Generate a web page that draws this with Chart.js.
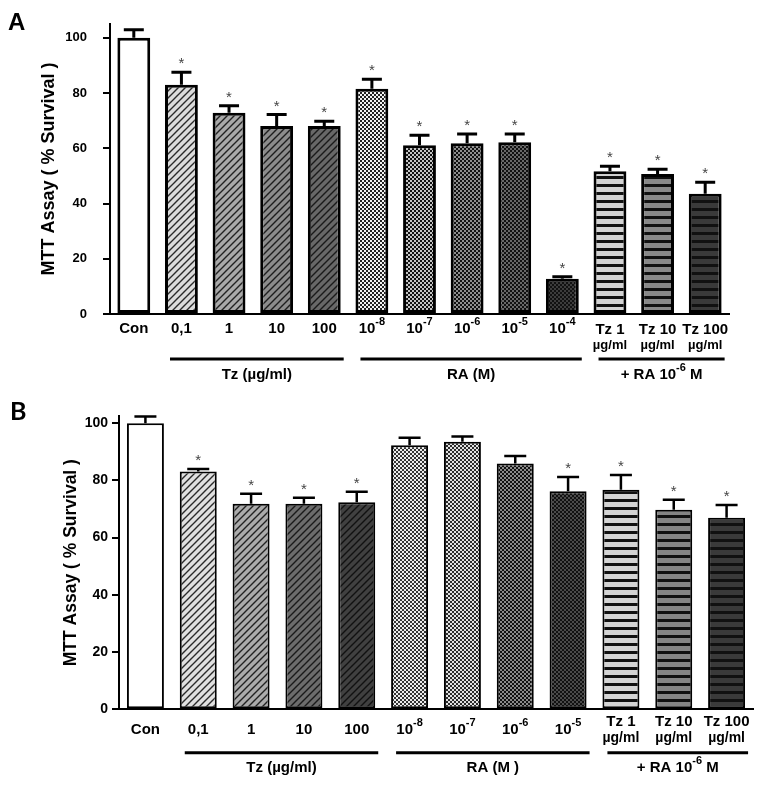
<!DOCTYPE html>
<html>
<head>
<meta charset="utf-8">
<script src="https://cdn.jsdelivr.net/npm/chart.js@4.4.1/dist/chart.umd.min.js"></script>
<style>
  body { margin: 0; background: #fff; }
  #wrap { position: relative; width: 760px; height: 786px; }
  canvas { position: absolute; left: 0; }
  #chartA { top: 0; }
  #chartB { top: 395px; }
</style>
</head>
<body>
<div id="wrap">
  <canvas id="chartA" width="760" height="395"></canvas>
  <canvas id="chartB" width="760" height="391"></canvas>
</div>
<script>
// ---- data ----
const labelsA = ["Con", "0,1", "1", "10", "100", "10^-8", "10^-7", "10^-6", "10^-5", "10^-4", "Tz 1\nµg/ml", "Tz 10\nµg/ml", "Tz 100\nµg/ml"];
const survivalA = [100, 83.0, 72.9, 68.1, 68.1, 81.6, 61.1, 61.8, 62.2, 12.8, 51.7, 50.7, 43.5];
const errorA = [2.9, 4.5, 2.5, 4.1, 1.7, 3.4, 3.6, 3.4, 3.0, 0.7, 1.8, 1.7, 4.2];
const sigA = [0, 1, 1, 1, 1, 1, 1, 1, 1, 1, 1, 1, 1];
const groupNamesA = ["Tz (µg/ml)", "RA (M)", "+ RA 10^-6^ M"];
const groupSpansA = [[1, 4], [5, 9], [10, 12]];

const labelsB = ["Con", "0,1", "1", "10", "100", "10^-8", "10^-7", "10^-6", "10^-5", "Tz 1\nµg/ml", "Tz 10\nµg/ml", "Tz 100\nµg/ml"];
const survivalB = [100, 83.1, 71.8, 71.8, 72.4, 92.3, 93.5, 85.9, 76.2, 76.7, 69.7, 66.9];
const errorB = [2.3, 0.9, 3.5, 2.1, 3.6, 2.6, 1.8, 2.6, 5.0, 5.2, 3.5, 4.5];
const sigB = [0, 1, 1, 1, 1, 0, 0, 0, 1, 1, 1, 1];
const groupNamesB = ["Tz (µg/ml)", "RA (M )", "+ RA 10^-6^ M"];
const groupSpansB = [[1, 4], [5, 8], [9, 11]];

const yTitle = "MTT Assay ( % Survival )";

// ---- bar fill styles ----
const fillsA = [
  ["solid", "#ffffff"],
  ["diag", "#dcdcdc", "#2a2a2a"],
  ["diag", "#a9a9a9", "#222"],
  ["diag", "#8c8c8c", "#1e1e1e"],
  ["diag", "#686868", "#1a1a1a"],
  ["check", "#f2f2f2", "#222"],
  ["check", "#c4c4c4", "#111"],
  ["check", "#8e8e8e", "#111"],
  ["check", "#676767", "#111"],
  ["check", "#3c3c3c", "#111"],
  ["stripe", "#d2d2d2", "#111"],
  ["stripe", "#888888", "#111"],
  ["stripe", "#3a3a3a", "#111"]
];
const fillsB = [
  ["solid", "#ffffff"],
  ["diag", "#e0e0e0", "#2a2a2a"],
  ["diag", "#ababab", "#222"],
  ["diag", "#6c6c6c", "#1a1a1a"],
  ["diag", "#404040", "#111"],
  ["check", "#ececec", "#333"],
  ["check", "#e0e0e0", "#2a2a2a"],
  ["check", "#8a8a8a", "#111"],
  ["check", "#4a4a4a", "#111"],
  ["stripe", "#d4d4d4", "#111"],
  ["stripe", "#858585", "#111"],
  ["stripe", "#3a3a3a", "#111"]
];

const FONT = "'Liberation Sans', Arial, sans-serif";

function makeFill(spec) {
  const [kind, bg, fg] = spec;
  if (kind === "solid") return bg;
  const c = document.createElement("canvas");
  const g = c.getContext("2d");
  if (kind === "diag") {
    c.width = c.height = 7;
    g.fillStyle = bg; g.fillRect(0, 0, 7, 7);
    g.strokeStyle = fg; g.lineWidth = 1.4;
    g.beginPath();
    g.moveTo(-1, 8); g.lineTo(8, -1);
    g.moveTo(-1, 1); g.lineTo(1, -1);
    g.moveTo(6, 8); g.lineTo(8, 6);
    g.stroke();
  } else if (kind === "check") {
    c.width = c.height = 4;
    g.fillStyle = bg; g.fillRect(0, 0, 4, 4);
    g.fillStyle = fg; g.fillRect(0, 0, 2, 2); g.fillRect(2, 2, 2, 2);
  } else {
    c.width = 4; c.height = 8;
    g.fillStyle = bg; g.fillRect(0, 0, 4, 8);
    g.fillStyle = fg; g.fillRect(0, 0, 4, 3);
  }
  return g.createPattern(c, "repeat");
}

// text with ^superscript^ parts, centred on cx
function drawRich(ctx, text, cx, y, size) {
  const parts = text.split("^");
  const supSize = Math.round(size * 0.75);
  let w = 0;
  parts.forEach((p, k) => {
    ctx.font = "bold " + (k % 2 ? supSize : size) + "px " + FONT;
    w += ctx.measureText(p).width;
  });
  let x = cx - w / 2;
  ctx.textAlign = "left";
  ctx.textBaseline = "middle";
  parts.forEach((p, k) => {
    const sup = k % 2 === 1;
    ctx.font = "bold " + (sup ? supSize : size) + "px " + FONT;
    ctx.fillText(p, x, sup ? y - size * 0.45 : y);
    x += ctx.measureText(p).width;
  });
}

function annotate(o) {
  return {
    id: "annot" + o.letter,
    afterDatasetsDraw(chart) {
      const ctx = chart.ctx;
      const xs = chart.scales.x, ys = chart.scales.y;
      const ds = chart.data.datasets[0];
      const bars = chart.getDatasetMeta(0).data;
      ctx.save();
      // error bars + stars
      bars.forEach((bar, i) => {
        const top = ys.getPixelForValue(ds.data[i] + ds.errors[i]);
        ctx.strokeStyle = "#000";
        ctx.lineWidth = o.errWidth;
        ctx.beginPath();
        ctx.moveTo(bar.x, bar.y);
        ctx.lineTo(bar.x, top);
        ctx.moveTo(bar.x - o.capHalf, top);
        ctx.lineTo(bar.x + o.capHalf, top);
        ctx.stroke();
        if (ds.sig[i]) {
          ctx.fillStyle = "#444";
          ctx.font = "15px " + FONT;
          ctx.textAlign = "center";
          ctx.textBaseline = "alphabetic";
          ctx.fillText("*", bar.x, top - 4);
        }
      });
      // category labels
      ctx.fillStyle = "#000";
      chart.data.labels.forEach((lab, i) => {
        const cx = xs.getPixelForValue(i);
        const lines = lab.split("\n");
        if (lines.length === 1) {
          drawRich(ctx, lab, cx, o.labelY, o.labelSize);
        } else {
          drawRich(ctx, lines[0], cx, o.line1Y, o.labelSize);
          drawRich(ctx, lines[1], cx, o.line2Y, o.line2Size);
        }
      });
      // group bars and names
      ctx.strokeStyle = "#000";
      ctx.lineWidth = 3;
      o.spans.forEach((sp, k) => {
        const b0 = bars[sp[0]], b1 = bars[sp[1]];
        const x0 = b0.x - b0.width / 2 + 5, x1 = b1.x + b1.width / 2 + 3;
        ctx.beginPath();
        ctx.moveTo(x0, o.groupLineY);
        ctx.lineTo(x1, o.groupLineY);
        ctx.stroke();
        drawRich(ctx, o.names[k], (x0 + x1) / 2, o.groupLabelY, o.groupSize);
      });
      // panel letter
      ctx.font = o.letterFont;
      ctx.textAlign = "left";
      ctx.textBaseline = "alphabetic";
      ctx.fillText(o.letter, o.letterX, o.letterY);
      ctx.restore();
    }
  };
}

function buildChart(id, labels, values, errors, sig, fills, o) {
  return new Chart(document.getElementById(id), {
    type: "bar",
    data: {
      labels: labels,
      datasets: [{
        data: values,
        errors: errors,
        sig: sig,
        backgroundColor: fills.map(makeFill),
        borderColor: "#000",
        borderWidth: o.borderWidth,
        borderSkipped: false,
        barPercentage: o.barPct,
        categoryPercentage: 1.0
      }]
    },
    options: {
      responsive: false,
      animation: false,
      layout: { padding: { top: o.padTop, right: o.padRight, left: 0, bottom: 0 } },
      plugins: { legend: { display: false }, tooltip: { enabled: false } },
      scales: {
        x: {
          grid: { display: false },
          border: { display: true, color: "#000", width: 2 },
          ticks: { display: false },
          afterFit: s => { s.height = o.xHeight; }
        },
        y: {
          min: 0,
          max: o.yMax,
          grid: { display: true, drawOnChartArea: false, drawTicks: true, tickLength: 7, color: "#000", lineWidth: 2 },
          border: { display: true, color: "#000", width: 2 },
          ticks: {
            stepSize: 20,
            includeBounds: false,
            padding: o.tickPad,
            color: "#000",
            font: { family: FONT, weight: "bold", size: o.tickSize }
          },
          title: {
            display: true,
            text: yTitle,
            color: "#000",
            font: { family: FONT, weight: "bold", size: o.titleSize },
            padding: { top: o.titlePad, bottom: 0 }
          },
          afterFit: s => { s.width = o.yWidth; }
        }
      }
    },
    plugins: [annotate(o)]
  });
}

buildChart("chartA", labelsA, survivalA, errorA, sigA, fillsA, {
  letter: "A", letterX: 8, letterY: 30, letterFont: "bold 24px " + FONT,
  padTop: 24, padRight: 31, xHeight: 81, yWidth: 110, yMax: 105,
  tickPad: 16, tickSize: 13, titleSize: 18, titlePad: 38,
  borderWidth: 3, barPct: 0.69, errWidth: 3, capHalf: 10,
  labelY: 329, line1Y: 330, line2Y: 345, labelSize: 15, line2Size: 13,
  spans: groupSpansA, names: groupNamesA, groupLineY: 359, groupLabelY: 375, groupSize: 15
});

buildChart("chartB", labelsB, survivalB, errorB, sigB, fillsB, {
  letter: "B", letterX: 10, letterY: 25, letterFont: "bold 25px Lato, " + FONT,
  padTop: 21, padRight: 7, xHeight: 76.7, yWidth: 119, yMax: 102.5,
  tickPad: 4, tickSize: 14, titleSize: 17.5, titlePad: 61,
  borderWidth: 2, barPct: 0.70, errWidth: 2.5, capHalf: 11,
  labelY: 335, line1Y: 326.5, line2Y: 343, labelSize: 15, line2Size: 14,
  spans: groupSpansB, names: groupNamesB, groupLineY: 357.7, groupLabelY: 373, groupSize: 15
});
</script>
</body>
</html>
